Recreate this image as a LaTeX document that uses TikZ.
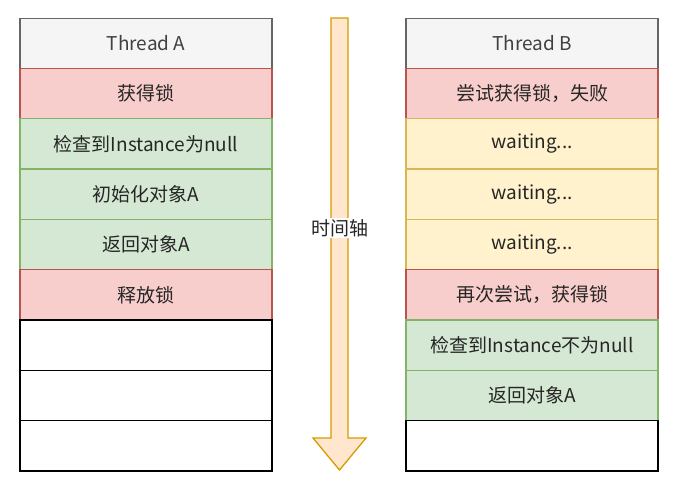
\documentclass[tikz,border=0pt]{standalone}
\usepackage{fontspec}
\setmainfont{Noto Sans CJK SC}
\usetikzlibrary{positioning}

\definecolor{hdfill}{HTML}{F5F5F5}
\definecolor{hddraw}{HTML}{666666}
\definecolor{redfill}{HTML}{F8CECC}
\definecolor{reddraw}{HTML}{B85450}
\definecolor{grnfill}{HTML}{D5E8D4}
\definecolor{grndraw}{HTML}{82B366}
\definecolor{ylwfill}{HTML}{FFF2CC}
\definecolor{ylwdraw}{HTML}{D6B656}
\definecolor{arrfill}{HTML}{FFE6CC}
\definecolor{arrdraw}{HTML}{D79B00}

\begin{document}
\begin{tikzpicture}[
    x=1pt, y=-1pt,
    font=\fontsize{19}{22}\selectfont,
    row/.style={draw, line width=1.3pt, outer sep=0pt, minimum width=252pt,
                minimum height=50.3pt, inner sep=0pt, text=black!85},
    head/.style={row, fill=hdfill, draw=hddraw, text=black!75},
    lock/.style={row, fill=redfill, draw=reddraw},
    work/.style={row, fill=grnfill, draw=grndraw},
    wait/.style={row, fill=ylwfill, draw=ylwdraw},
    idle/.style={row, fill=white, draw=black},
]
    \useasboundingbox (0,0) rectangle (688,482);

    %==================== THREAD A ====================
    \node[head] (a0) at (146,43.3) {Thread A};
    \node[lock, below=0pt of a0] (a1) {获得锁};
    \node[work, below=0pt of a1] (a2) {检查到Instance为null};
    \node[work, below=0pt of a2] (a3) {初始化对象A};
    \node[work, below=0pt of a3] (a4) {返回对象A};
    \node[lock, below=0pt of a4] (a5) {释放锁};
    \node[idle, below=0pt of a5] (a6) {};
    \node[idle, below=0pt of a6] (a7) {};
    \node[idle, below=0pt of a7] (a8) {};

    %==================== THREAD B ====================
    \node[head] (b0) at (532,43.3) {Thread B};
    \node[lock, below=0pt of b0] (b1) {尝试获得锁，失败};
    \node[wait, below=0pt of b1] (b2) {waiting...};
    \node[wait, below=0pt of b2] (b3) {waiting...};
    \node[wait, below=0pt of b3] (b4) {waiting...};
    \node[lock, below=0pt of b4] (b5) {再次尝试，获得锁};
    \node[work, below=0pt of b5] (b6) {检查到Instance不为null};
    \node[work, below=0pt of b6] (b7) {返回对象A};
    \node[idle, below=0pt of b7] (b8) {};

    %==================== TIME AXIS ====================
    \draw[arrdraw, fill=arrfill, line width=1.3pt, line join=miter]
        (331,18) -- (348,18) -- (348,438) -- (366,438) -- (339.5,470)
        -- (313,438) -- (331,438) -- cycle;
    \node[fill=white, inner sep=1pt, text=black!85] (axis) at (340,228) {时间轴};

\end{tikzpicture}
\end{document}
